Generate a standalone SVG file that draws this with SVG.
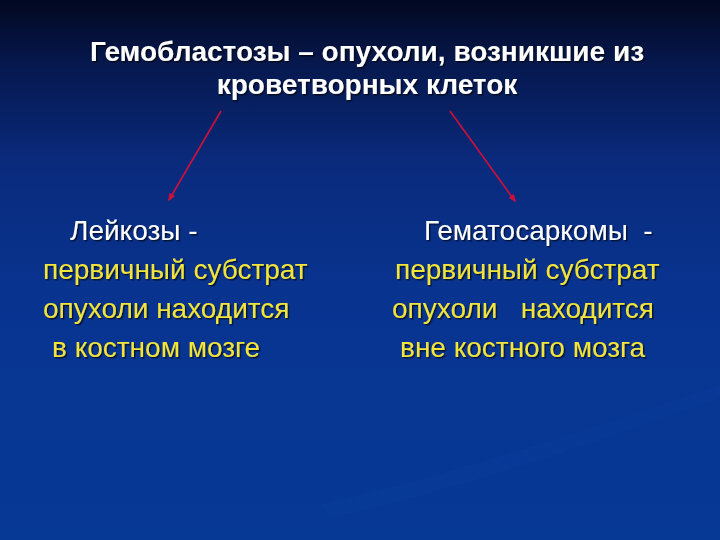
<svg xmlns="http://www.w3.org/2000/svg" width="720" height="540" viewBox="0 0 720 540">
<defs>
<linearGradient id="bg" x1="0" y1="0" x2="0" y2="1">
<stop offset="0" stop-color="#020820"/>
<stop offset="0.12" stop-color="#06184e"/>
<stop offset="0.3" stop-color="#0a2a7c"/>
<stop offset="0.55" stop-color="#083490"/>
<stop offset="1" stop-color="#063896"/>
</linearGradient>
<marker id="ah" viewBox="0 0 10 10" refX="8" refY="5" markerWidth="5" markerHeight="5" orient="auto">
<path d="M0,1 L10,5 L0,9 z" fill="#d0103a"/>
</marker>
<filter id="sh" x="-5%" y="-20%" width="110%" height="140%">
<feDropShadow dx="1.5" dy="1.5" stdDeviation="0.6" flood-color="#000" flood-opacity="0.6"/>
</filter>
</defs>
<style>
text{font-family:"Liberation Sans",Arial,sans-serif;filter:url(#sh)}
.t{font-size:28px;font-weight:bold;fill:#ffffff;text-anchor:middle}
.h{font-size:28px;fill:#ffffff}
.y{font-size:28px;fill:#f2e43a}
.c{stroke:#d0103a;stroke-width:1.6;fill:none;marker-end:url(#ah)}
</style>
<rect width="720" height="540" fill="url(#bg)"/>
<path d="M320,505 C450,475 600,425 720,385 L720,398 C600,442 450,492 330,518 Z" fill="#0a3e9e" opacity="0.25"/>
<g id="title">
<text class="t" x="367" y="61">Гемобластозы – опухоли, возникшие из</text>
<text class="t" x="367" y="94">кроветворных клеток</text>
</g>
<g id="connectors">
<line class="c" x1="221" y1="111" x2="169" y2="200"/>
<line class="c" x1="450" y1="111" x2="515" y2="201"/>
</g>
<g id="left">
<text class="h" x="70" y="240">Лейкозы -</text>
<text class="y" x="43" y="279">первичный субстрат</text>
<text class="y" x="43" y="318">опухоли находится</text>
<text class="y" x="52" y="357">в костном мозге</text>
</g>
<g id="right">
<text class="h" x="424" y="240" xml:space="preserve">Гематосаркомы  -</text>
<text class="y" x="395" y="279">первичный субстрат</text>
<text class="y" x="392" y="318" xml:space="preserve">опухоли   находится</text>
<text class="y" x="400" y="357">вне костного мозга</text>
</g>
</svg>
